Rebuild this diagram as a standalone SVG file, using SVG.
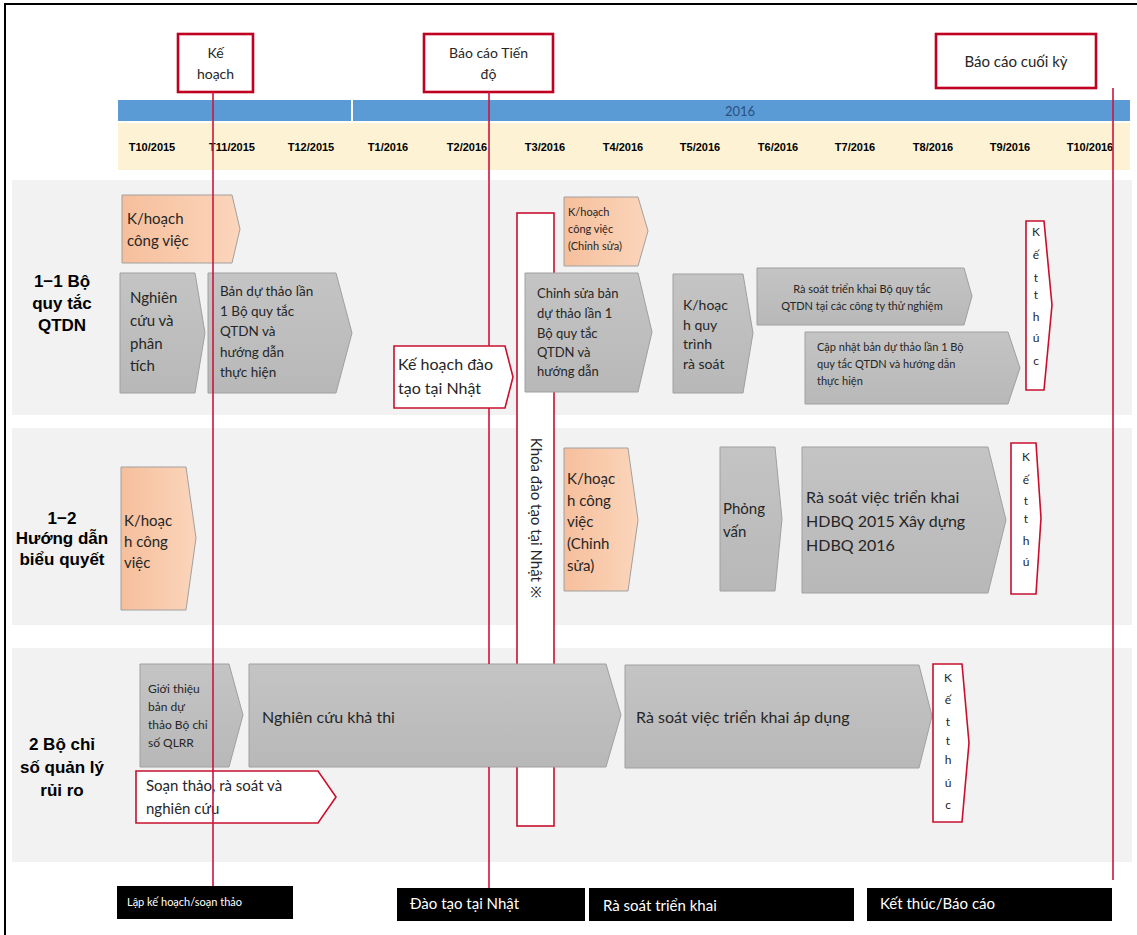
<svg xmlns="http://www.w3.org/2000/svg" width="1137" height="935" viewBox="0 0 1137 935">
<defs>
<linearGradient id="gGray" x1="0" y1="0" x2="0" y2="1"><stop offset="0" stop-color="#c4c4c4"/><stop offset="1" stop-color="#b8b8b8"/></linearGradient>
<linearGradient id="gOrange" x1="0" y1="0" x2="1" y2="0"><stop offset="0" stop-color="#f6bf9c"/><stop offset="1" stop-color="#fbd5bb"/></linearGradient>
</defs>
<style>
.t{font-family:Lato,"Noto Sans",sans-serif;fill:#262626}
.gray{fill:url(#gGray);stroke:#a0a0a0;stroke-width:1}
.orange{fill:url(#gOrange);stroke:#a0a0a0;stroke-width:1}
.red{fill:#ffffff;stroke:#c8102e;stroke-width:1.6}
.hdr{fill:#ffffff;stroke:#c00020;stroke-width:2.6}
.lbl{font-family:"Liberation Sans",Arial,sans-serif;font-weight:bold;font-size:17px;fill:#000;text-anchor:middle}
.mon{font-family:"Liberation Sans",Arial,sans-serif;font-weight:bold;font-size:11px;fill:#000;text-anchor:middle}
.blk{fill:#000}
.wt{font-family:Lato,"Noto Sans",sans-serif;fill:#fff}
.conn{stroke:#d0143c;stroke-width:1.6;fill:none}
.band{fill:#f2f2f2}
</style>
<rect width="1137" height="935" fill="#fff"/>
<path d="M5,935 V4 H1137" fill="none" stroke="#000" stroke-width="2"/>

<!-- row bands -->
<rect class="band" x="12" y="180" width="1120" height="235"/>
<rect class="band" x="12" y="428" width="1120" height="197"/>
<rect class="band" x="12" y="648" width="1120" height="214"/>

<!-- timeline header -->
<g id="timeline">
<rect x="118" y="100" width="1012" height="21" fill="#5b9bd5"/>
<rect x="351" y="100" width="2" height="21" fill="#fff"/>
<text x="740" y="116" font-family="Lato,'Noto Sans',sans-serif" font-size="13" fill="#2a4f80" text-anchor="middle">2016</text>
<rect x="118" y="123" width="1012" height="47" fill="#fdf2d3"/>
<text class="mon" x="152" y="151">T10/2015</text>
<text class="mon" x="232" y="151">T11/2015</text>
<text class="mon" x="311" y="151">T12/2015</text>
<text class="mon" x="388" y="151">T1/2016</text>
<text class="mon" x="467" y="151">T2/2016</text>
<text class="mon" x="545" y="151">T3/2016</text>
<text class="mon" x="623" y="151">T4/2016</text>
<text class="mon" x="700" y="151">T5/2016</text>
<text class="mon" x="778" y="151">T6/2016</text>
<text class="mon" x="855" y="151">T7/2016</text>
<text class="mon" x="933" y="151">T8/2016</text>
<text class="mon" x="1010" y="151">T9/2016</text>
<text class="mon" x="1090" y="151">T10/2016</text>
</g>

<!-- row labels -->
<g id="label-row1"><text class="lbl" x="62" y="287">1−1 Bộ</text><text class="lbl" x="62" y="309">quy tắc</text><text class="lbl" x="62" y="331">QTDN</text></g>
<g id="label-row2"><text class="lbl" x="62" y="524">1−2</text><text class="lbl" x="62" y="544">Hướng dẫn</text><text class="lbl" x="62" y="565">biểu quyết</text></g>
<g id="label-row3"><text class="lbl" x="62" y="750">2 Bộ chỉ</text><text class="lbl" x="62" y="773">số quản lý</text><text class="lbl" x="62" y="796">rủi ro</text></g>

<!-- header milestone boxes -->
<g id="m-kehoach"><rect class="hdr" x="178" y="34" width="75" height="58"/><text class="t" font-size="14" x="215.5" y="58" text-anchor="middle" fill="#404040">Kế</text><text class="t" font-size="14" x="215.5" y="79" text-anchor="middle">hoạch</text></g>
<g id="m-tiendo"><rect class="hdr" x="424" y="34" width="129" height="58"/><text class="t" font-size="14" x="488.5" y="58" text-anchor="middle">Báo cáo Tiến</text><text class="t" font-size="14" x="488.5" y="79" text-anchor="middle">độ</text></g>
<g id="m-cuoiky"><rect class="hdr" x="936" y="34" width="160" height="54"/><text class="t" font-size="15" x="1016" y="67" text-anchor="middle">Báo cáo cuối kỳ</text></g>

<!-- tall training box -->
<g id="khoa-dao-tao"><rect class="red" x="517" y="213" width="37" height="613"/><text class="t" font-size="15" transform="translate(531,518) rotate(90)" text-anchor="middle">Khóa đào tạo tại Nhật ※</text></g>

<!-- row 1 -->
<g id="r1-khoach"><polygon class="orange" points="122,195 232,195 240,229 232,263 122,263"/><text class="t" font-size="15"><tspan x="127" y="224">K/hoạch</tspan><tspan x="127" y="246">công việc</tspan></text></g>
<g id="r1-nghiencuu"><polygon class="gray" points="120,273 195,273 205,333 195,393 120,393"/><text class="t" font-size="15"><tspan x="130" y="303">Nghiên</tspan><tspan x="130" y="326">cứu và</tspan><tspan x="130" y="349">phân</tspan><tspan x="130" y="371">tích</tspan></text></g>
<g id="r1-banduthao"><polygon class="gray" points="208,273 336,273 352,333 336,393 208,393"/><text class="t" font-size="13.5"><tspan x="220" y="296">Bản dự thảo lần</tspan><tspan x="220" y="316">1 Bộ quy tắc</tspan><tspan x="220" y="336">QTDN  và</tspan><tspan x="220" y="357">hướng dẫn</tspan><tspan x="220" y="377">thực  hiện</tspan></text></g>
<g id="r1-kehoachdaotao"><polygon class="red" points="394,346 505,346 513,377 505,408 394,408"/><text class="t" font-size="16"><tspan x="398" y="370">Kế hoạch đào</tspan><tspan x="398" y="394">tạo tại Nhật</tspan></text></g>
<g id="r1-khoach2"><polygon class="orange" points="564,197 638,197 648,231 638,266 564,266"/><text class="t" font-size="11"><tspan x="568" y="216">K/hoạch</tspan><tspan x="568" y="233">công việc</tspan><tspan x="568" y="250">(Chỉnh sửa)</tspan></text></g>
<g id="r1-chinhsua"><polygon class="gray" points="525,273 638,273 652,332 638,392 525,392"/><text class="t" font-size="13"><tspan x="537" y="298">Chỉnh sửa bản</tspan><tspan x="537" y="318">dự thảo lần 1</tspan><tspan x="537" y="338">Bộ quy tắc</tspan><tspan x="537" y="357">QTDN và</tspan><tspan x="537" y="376">hướng dẫn</tspan></text></g>
<g id="r1-quytrinh"><polygon class="gray" points="673,274 743,274 753,333 743,393 673,393"/><text class="t" font-size="14"><tspan x="683" y="310">K/hoạc</tspan><tspan x="683" y="330">h quy</tspan><tspan x="683" y="349">trình</tspan><tspan x="683" y="369">rà soát</tspan></text></g>
<g id="r1-rasoat"><polygon class="gray" points="757,268 964,268 972,296 964,325 757,325"/><text class="t" font-size="11" text-anchor="middle"><tspan x="862" y="293">Rà soát triển khai Bộ quy tắc</tspan><tspan x="862" y="310">QTDN  tại các công ty thử nghiệm</tspan></text></g>
<g id="r1-capnhat"><polygon class="gray" points="805,332 1008,332 1020,368 1008,404 805,404"/><text class="t" font-size="11"><tspan x="817" y="351">Cập nhật bản dự thảo lần 1 Bộ</tspan><tspan x="817" y="368">quy tắc QTDN   và hướng dẫn</tspan><tspan x="817" y="385">thực hiện</tspan></text></g>
<g id="r1-ketthuc"><polygon class="red" points="1026,221 1044,221 1052,305 1044,390 1026,390"/><text class="t" font-size="12" text-anchor="middle"><tspan x="1036" y="236">K</tspan><tspan x="1036" y="259">ế</tspan><tspan x="1036" y="282">t</tspan><tspan x="1036" y="299">t</tspan><tspan x="1036" y="321">h</tspan><tspan x="1036" y="342">ú</tspan><tspan x="1036" y="365">c</tspan></text></g>

<!-- row 2 -->
<g id="r2-khoach"><polygon class="orange" points="121,467 186,467 196,538 186,610 121,610"/><text class="t" font-size="15"><tspan x="124" y="526">K/hoạc</tspan><tspan x="124" y="547">h công</tspan><tspan x="124" y="568">việc</tspan></text></g>
<g id="r2-khoach2"><polygon class="orange" points="564,448 628,448 638,520 628,591 564,591"/><text class="t" font-size="15"><tspan x="567" y="484">K/hoạc</tspan><tspan x="567" y="506">h công</tspan><tspan x="567" y="527">việc</tspan><tspan x="567" y="549">(Chỉnh</tspan><tspan x="567" y="571">sửa)</tspan></text></g>
<g id="r2-phongvan"><polygon class="gray" points="720,447 775,447 782,519 775,591 720,591"/><text class="t" font-size="15"><tspan x="723" y="514">Phỏng</tspan><tspan x="723" y="537">vấn</tspan></text></g>
<g id="r2-rasoat"><polygon class="gray" points="802,447 988,447 1006,520 988,593 802,593"/><text class="t" font-size="16"><tspan x="806" y="503">Rà soát việc triển khai</tspan><tspan x="806" y="527">HDBQ 2015 Xây dựng</tspan><tspan x="806" y="551">HDBQ 2016</tspan></text></g>
<g id="r2-ketthuc"><polygon class="red" points="1011,443 1036,443 1041,518 1036,594 1011,594"/><text class="t" font-size="12" text-anchor="middle"><tspan x="1026" y="461">K</tspan><tspan x="1026" y="484">ế</tspan><tspan x="1026" y="505">t</tspan><tspan x="1026" y="523">t</tspan><tspan x="1026" y="545">h</tspan><tspan x="1026" y="566">ú</tspan></text></g>

<!-- row 3 -->
<g id="r3-gioithieu"><polygon class="gray" points="140,664 229,664 243,715 229,767 140,767"/><text class="t" font-size="12"><tspan x="148" y="693">Giới thiệu</tspan><tspan x="148" y="711">bản dự</tspan><tspan x="148" y="729">thảo Bộ chỉ</tspan><tspan x="148" y="747">số  QLRR</tspan></text></g>
<g id="r3-khathi"><polygon class="gray" points="249,664 606,664 621,715 606,767 249,767"/><text class="t" font-size="16" x="262" y="723">Nghiên cứu khả thi</text></g>
<g id="r3-rasoat"><polygon class="gray" points="625,665 919,665 932,716 919,768 625,768"/><text class="t" font-size="16" x="636" y="723">Rà soát việc triển khai áp dụng</text></g>
<g id="r3-ketthuc"><polygon class="red" points="933,664 962,664 969,743 962,822 933,822"/><text class="t" font-size="12" text-anchor="middle"><tspan x="948" y="682">K</tspan><tspan x="948" y="704">ế</tspan><tspan x="948" y="726">t</tspan><tspan x="948" y="745">t</tspan><tspan x="948" y="764">h</tspan><tspan x="948" y="787">ú</tspan><tspan x="948" y="809">c</tspan></text></g>
<g id="r3-soanthao"><polygon class="red" points="136,771 318,771 336,797 318,823 136,823"/><text class="t" font-size="15"><tspan x="146" y="791">Soạn thảo, rà soát và</tspan><tspan x="146" y="814">nghiên cứu</tspan></text></g>

<!-- bottom phase labels -->
<g id="p-lapkehoach"><rect class="blk" x="117" y="886" width="176" height="33"/><text class="wt" font-size="11" x="127" y="906">Lập kế hoạch/soạn thảo</text></g>
<g id="p-daotao"><rect class="blk" x="397" y="888" width="188" height="33"/><text class="wt" font-size="15" x="410" y="909">Đào tạo tại Nhật</text></g>
<g id="p-rasoat"><rect class="blk" x="589" y="888" width="265" height="33"/><text class="wt" font-size="15" x="603" y="911">Rà soát triển khai</text></g>
<g id="p-ketthuc"><rect class="blk" x="867" y="888" width="245" height="33"/><text class="wt" font-size="15" x="880" y="909">Kết thúc/Báo cáo</text></g>

<!-- connectors -->
<g id="connectors">
<line class="conn" x1="213" y1="92" x2="213" y2="886"/>
<path class="conn" d="M489,92 V346 M489,408 V664 M489,767 V888"/>
<line class="conn" x1="1113" y1="88" x2="1113" y2="880"/>
</g>
</svg>
